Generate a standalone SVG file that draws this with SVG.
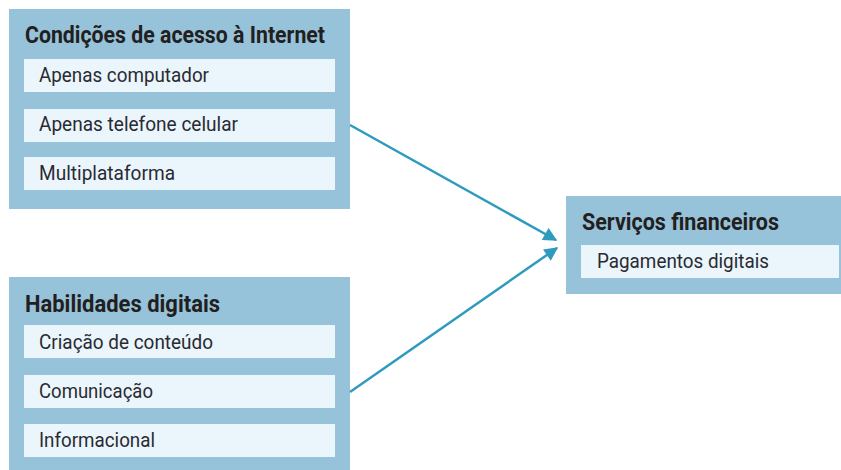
<svg xmlns="http://www.w3.org/2000/svg" width="841" height="470" viewBox="0 0 841 470">
<defs>
<style>
.outer{fill:#96c3da}
.inner{fill:#eaf6fb}
.title{font-family:Roboto,"Liberation Sans",sans-serif;font-weight:bold;font-size:23px;fill:#231f20}
.item{font-family:Roboto,"Liberation Sans",sans-serif;font-size:21px;fill:#2a2a33}
.conn{stroke:#2e9bbe;stroke-width:2.5;fill:none}
</style>
<marker id="arr" viewBox="0 0 10 10" refX="9" refY="5" markerWidth="6" markerHeight="5.5" orient="auto" markerUnits="strokeWidth">
<path d="M0,0 L10,5 L0,10 Z" fill="#2e9bbe"/>
</marker>
</defs>
<rect width="841" height="470" fill="#ffffff"/>
<g id="acesso">
<rect class="outer" x="9" y="9" width="341" height="200"/>
<text class="title" x="25" y="43" textLength="300" lengthAdjust="spacingAndGlyphs">Condições de acesso à Internet</text>
<rect class="inner" x="24" y="59" width="311" height="33"/>
<text class="item" x="39" y="82" textLength="170" lengthAdjust="spacingAndGlyphs">Apenas computador</text>
<rect class="inner" x="24" y="109" width="311" height="33"/>
<text class="item" x="39" y="131" textLength="199" lengthAdjust="spacingAndGlyphs">Apenas telefone celular</text>
<rect class="inner" x="24" y="157" width="311" height="33"/>
<text class="item" x="39" y="180" textLength="136" lengthAdjust="spacingAndGlyphs">Multiplataforma</text>
</g>
<g id="habilidades">
<rect class="outer" x="9" y="277" width="341" height="193"/>
<text class="title" x="25" y="312" textLength="195" lengthAdjust="spacingAndGlyphs">Habilidades digitais</text>
<rect class="inner" x="24" y="325" width="311" height="33"/>
<text class="item" x="39" y="349" textLength="174" lengthAdjust="spacingAndGlyphs">Criação de conteúdo</text>
<rect class="inner" x="24" y="375" width="311" height="33"/>
<text class="item" x="39" y="398" textLength="114" lengthAdjust="spacingAndGlyphs">Comunicação</text>
<rect class="inner" x="24" y="424" width="311" height="33"/>
<text class="item" x="39" y="447" textLength="116" lengthAdjust="spacingAndGlyphs">Informacional</text>
</g>
<g id="servicos">
<rect class="outer" x="566" y="196" width="275" height="98"/>
<text class="title" x="582" y="230" textLength="197" lengthAdjust="spacingAndGlyphs">Serviços financeiros</text>
<rect class="inner" x="581" y="245" width="258" height="33"/>
<text class="item" x="597" y="268" textLength="172" lengthAdjust="spacingAndGlyphs">Pagamentos digitais</text>
</g>
<g id="connectors">
<line class="conn" x1="350" y1="125" x2="556" y2="240" marker-end="url(#arr)"/>
<line class="conn" x1="350" y1="392" x2="557" y2="248" marker-end="url(#arr)"/>
</g>
</svg>
